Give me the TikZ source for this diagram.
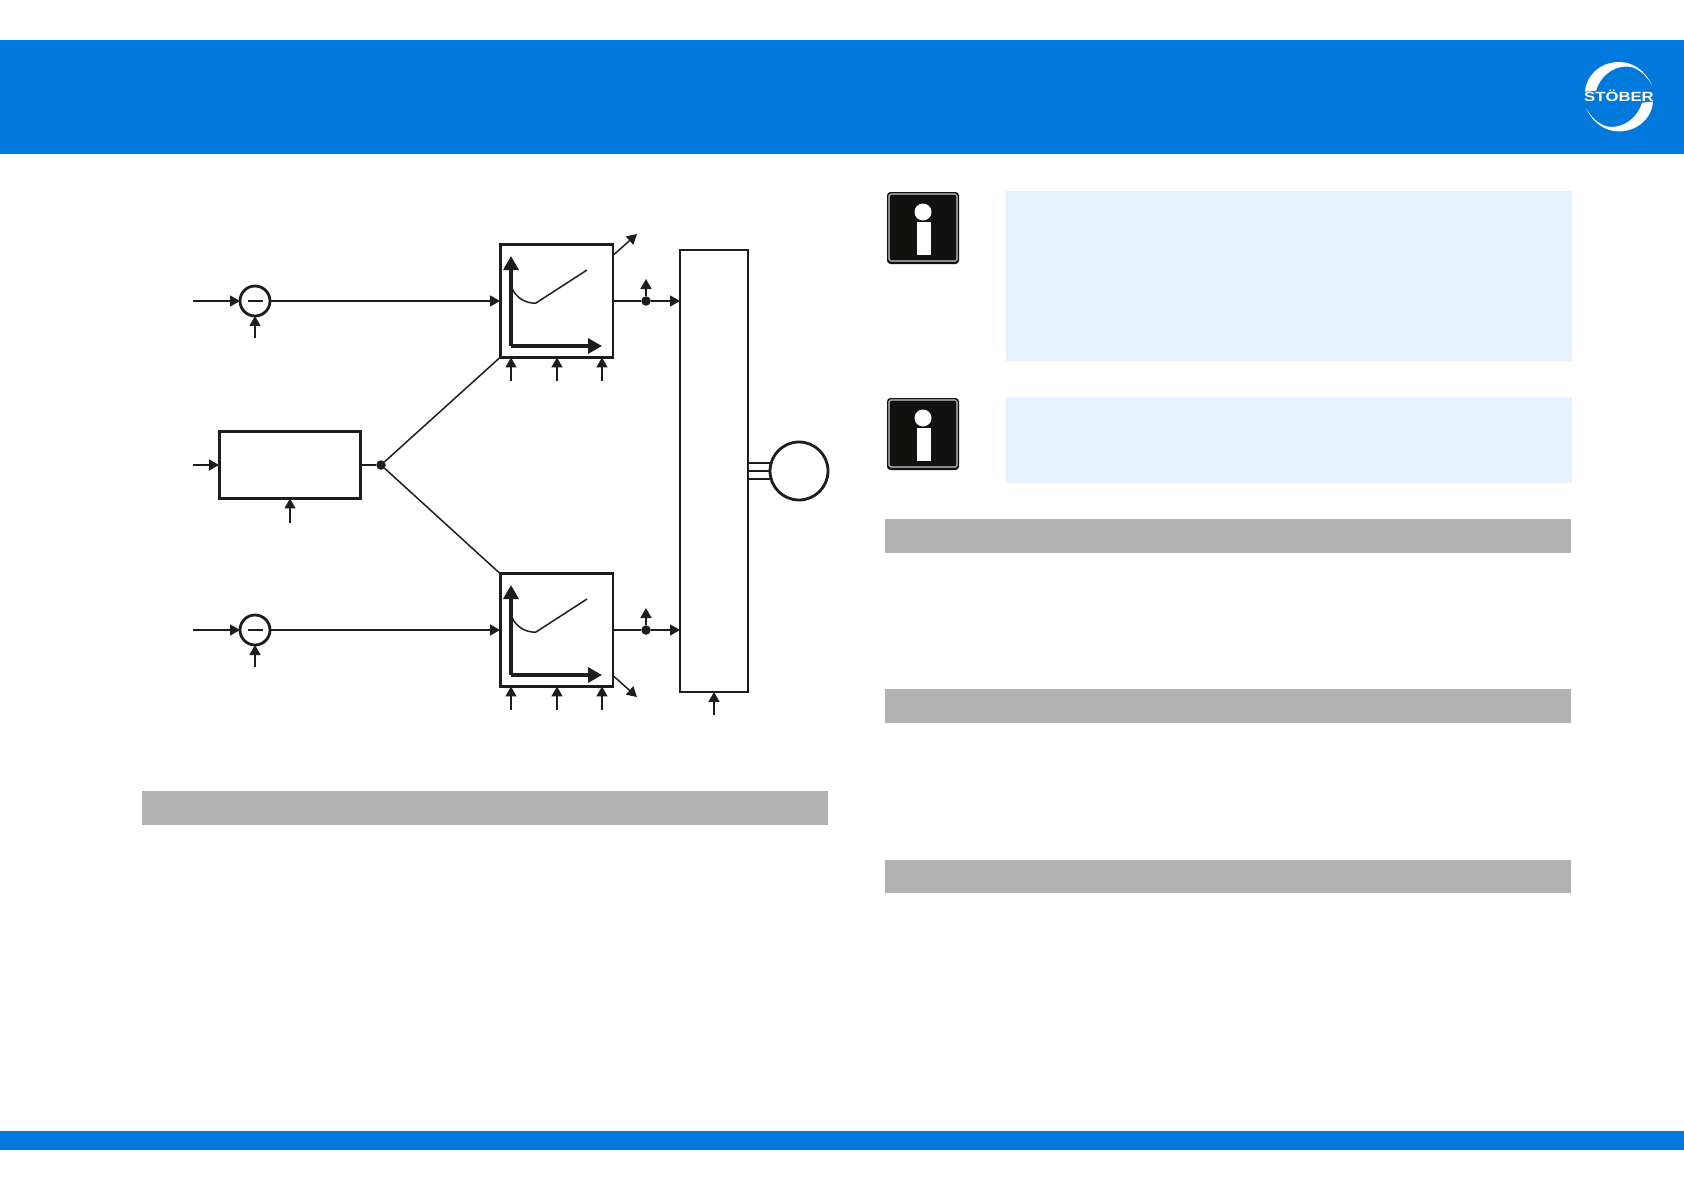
\documentclass[tikz,border=0pt]{standalone}
\usepackage{fontspec}
\usepackage{tikz}
\usetikzlibrary{arrows.meta,positioning,calc}
\newfontfamily\logofont{Liberation Sans}
\definecolor{hdr}{HTML}{0078DC}
\definecolor{pnl}{HTML}{E5F1FD}
\definecolor{bar}{HTML}{B2B2B2}
\definecolor{ink}{HTML}{1D1D1B}
\tikzset{
  sig/.style={ink,line width=0.85pt,-{Triangle[length=2mm,width=2.2mm]}},
  wire/.style={ink,line width=0.85pt},
  axis/.style={ink,line width=1.8pt,-{Triangle[length=2.8mm,width=3mm]}},
  blk/.style={draw=ink,line width=1.7pt,fill=white,inner sep=0pt,outer sep=0pt},
  sumc/.style={circle,draw=ink,line width=1.6pt,fill=white,inner sep=0pt,outer sep=0pt,minimum size=0.6cm},
  dot/.style={circle,fill=ink,inner sep=0pt,outer sep=0pt,minimum size=0.19cm}
}
\begin{document}
\begin{tikzpicture}[x=0.02cm,y=-0.02cm]
  \useasboundingbox (0,0) rectangle (1684,1190);
  \fill[white] (0,0) rectangle (1684,1190);
  \fill[hdr] (0,39.5) rectangle (1684,154);
  \fill[hdr] (0,1131) rectangle (1684,1150);
  % logo
  \foreach \a in {0,180} {
    \fill[white,rotate around={\a:(1619,96.7)}] (1652,85)
      .. controls (1644,69) and (1632,62) .. (1619,62)
      .. controls (1600,62) and (1586,76) .. (1585,91.7)
      -- (1596,90.7)
      .. controls (1600,77) and (1612,66.5) .. (1626.7,66.5)
      .. controls (1637,66.5) and (1646,75) .. (1652,85);}
  \node[white,inner sep=0pt] (logo) at (1619,96)
    {\scalebox{1.25}[1]{\logofont\bfseries\fontsize{7.6}{8}\selectfont STÖBER}};
  % panels
  \fill[pnl] (1006,191) rectangle (1572,361);
  \fill[pnl] (1006,397) rectangle (1572,483);
  \foreach \y/\h in {519/553,689/723,860/893} {
    \fill[bar] (885,\y) rectangle (1571,\h);}
  \fill[bar] (142,791) rectangle (828,825);
  % info signs
  \foreach \y in {192,398} {
    \fill[ink!60!black,rounded corners=2] (887,\y) rectangle (959,\y+72);
    \draw[white!80!black,line width=0.6pt,rounded corners=1] (889,\y+2) rectangle (957,\y+69);
    \fill[white] (923,\y+20) circle (8.5);
    \fill[white] (917,\y+30) rectangle (931,\y+63);}
  % blocks
  \node[blk,minimum width=2.84cm,minimum height=1.34cm] (ramp) at (290,465) {};
  \node[blk,line width=1.3pt,minimum width=1.36cm,minimum height=8.84cm] (inv) at (714,471) {};
  \node[blk,circle,line width=1.6pt,minimum size=1.16cm] (mot) at (799,471) {};
  \node[dot] (rampdot) at (381,465) {};
  \draw[wire] (ramp.east) -- (rampdot);
  \coordinate (rampin) at (193,465);
  \coordinate (rampset) at (290,523);
  \draw[sig] (rampin) -- (ramp.west |- rampin);
  \draw[sig] (rampset) -- (ramp.south);
  \coordinate (invset) at (714,715);
  \draw[sig] (invset) -- (inv.south);
  \foreach \y/\w in {463/0.6pt,471/1.4pt,479/0.6pt} {
    \coordinate (mot\y) at (771,\y);
    \draw[ink,line width=\w] (mot\y -| inv.east) -- (mot\y);}
  % two channels
  \foreach \n/\y in {a/301,b/630} {
    \node[blk,minimum width=2.26cm,minimum height=2.26cm] (ctrl\n) at (556.5,\y) {};
    \node[sumc] (sum\n) at (255,\y) {};
    \node[dot] (out\n) at (646,\y) {};
    \coordinate (in\n) at (193,\y);
    \coordinate (fb\n) at (255,\y+37);
    \coordinate (tap\n) at (646,\y-22);
    \draw[sig] (in\n) -- (sum\n);
    \draw[sig] (fb\n) -- (sum\n);
    \draw[ink,line width=1.2pt] (248,\y) -- (263,\y);
    \draw[sig] (sum\n) -- (ctrl\n);
    \draw[wire] (ctrl\n.east) -- (out\n);
    \draw[sig] (out\n) -- (inv.west |- out\n);
    \draw[sig] (out\n) -- (tap\n);
    \coordinate (org\n) at (511,\y+45);
    \draw[axis] (org\n) -- (511,\y-45);
    \draw[axis] (org\n) -- (602,\y+45);
    \draw[wire] (512,\y-13) .. controls (515,\y-4) and (526,\y+3) .. (536,\y+2) -- (587,\y-31);
    \foreach \x in {511,557,602} {
      \coordinate (t\n\x) at (\x,\y+80);
      \draw[sig] (t\n\x) -- (t\n\x |- ctrl\n.south);}
  }
  \draw[wire] (rampdot) -- (ctrla.south west);
  \draw[wire] (rampdot) -- (ctrlb.north west);
  \coordinate (lima) at (637,234);
  \coordinate (limb) at (637,697);
  \draw[sig] (ctrla.north east) ++(1,10) -- (lima);
  \draw[sig] (ctrlb.south east) ++(1,-10) -- (limb);
\end{tikzpicture}
\end{document}
